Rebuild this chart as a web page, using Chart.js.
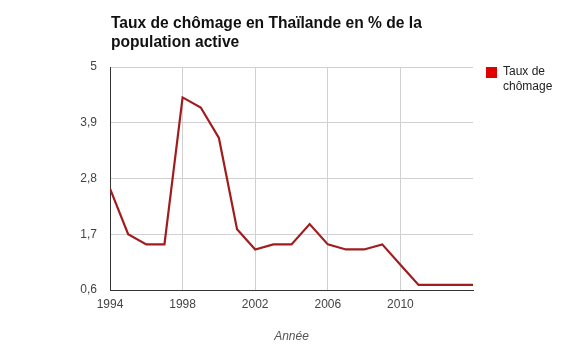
<!DOCTYPE html>
<html>
<head>
<meta charset="utf-8">
<script src="https://cdn.jsdelivr.net/npm/chart.js@4/dist/chart.umd.min.js"></script>
<style>
  html, body { margin: 0; padding: 0; background: #fff; }
  #wrap { position: relative; width: 580px; height: 358px; }
</style>
</head>
<body>
<div id="wrap"><canvas id="c" width="580" height="358"></canvas></div>
<script>
const titleLines = ['Taux de chômage en Thaïlande en % de la', 'population active'];
const seriesLabel = 'Taux de chômage';
const legendLines = ['Taux de', 'chômage'];
const xTitle = 'Année';
const years = [1994,1995,1996,1997,1998,1999,2000,2001,2002,2003,2004,2005,2006,2007,2008,2009,2010,2011,2012,2013,2014];
const values = [2.6,1.7,1.5,1.5,4.4,4.2,3.6,1.8,1.4,1.5,1.5,1.9,1.5,1.4,1.4,1.5,1.1,0.7,0.7,0.7,0.7];
const xTicks = [1994,1998,2002,2006,2010];
const yTicks = [0.6,1.7,2.8,3.9,5];
const yTickLabels = ['0,6','1,7','2,8','3,9','5'];

const FONT = '"Liberation Sans", Arial, sans-serif';

const customLegend = {
  id: 'customLegend',
  afterDraw(chart) {
    const ctx = chart.ctx;
    ctx.save();
    ctx.fillStyle = '#e00000';
    ctx.fillRect(486, 67, 11, 11);
    ctx.fillStyle = '#222';
    ctx.font = '12px ' + FONT;
    ctx.textBaseline = 'middle';
    ctx.textAlign = 'left';
    legendLines.forEach((t, i) => ctx.fillText(t, 503, 72 + i * 15));
    ctx.restore();
  }
};

const customTitle = {
  id: 'customTitle',
  afterDraw(chart) {
    const ctx = chart.ctx;
    ctx.save();
    ctx.fillStyle = '#111';
    ctx.font = 'bold 15.6px ' + FONT;
    ctx.textBaseline = 'alphabetic';
    ctx.textAlign = 'left';
    titleLines.forEach((t, i) => ctx.fillText(t, 111, 28 + i * 19));
    ctx.restore();
  }
};

new Chart(document.getElementById('c'), {
  type: 'line',
  data: {
    datasets: [{
      label: seriesLabel,
      data: years.map((y, i) => ({ x: y, y: values[i] })),
      borderColor: '#a01c1e',
      borderWidth: 2.2,
      pointRadius: 0,
      tension: 0,
      fill: false
    }]
  },
  options: {
    responsive: false,
    animation: false,
    layout: { padding: { left: 0, right: 107, top: 67, bottom: 0 } },
    plugins: {
      legend: { display: false },
      title: { display: false },
      tooltip: { enabled: false }
    },
    scales: {
      x: {
        type: 'linear',
        min: 1994,
        max: 2014,
        afterBuildTicks(scale) { scale.ticks = xTicks.map(v => ({ value: v })); },
        afterFit(scale) { scale.height = 68; },
        ticks: {
          color: '#444',
          font: { family: FONT, size: 12 },
          padding: 7,
          maxRotation: 0,
          callback: v => String(v)
        },
        grid: { color: '#d0d0d0', lineWidth: 1, drawTicks: false },
        border: { color: '#333', width: 1 },
        title: {
          display: true,
          text: xTitle,
          color: '#555',
          font: { family: FONT, size: 12, style: 'italic' },
          padding: { top: 4, bottom: 14 }
        }
      },
      y: {
        min: 0.6,
        max: 5,
        afterBuildTicks(scale) { scale.ticks = yTicks.map(v => ({ value: v })); },
        afterFit(scale) { scale.width = 110; },
        ticks: {
          color: '#444',
          font: { family: FONT, size: 12 },
          padding: 13,
          callback: (v, i) => yTickLabels[i]
        },
        grid: { color: '#d0d0d0', lineWidth: 1, drawTicks: false },
        border: { color: '#333', width: 1 }
      }
    }
  },
  plugins: [customTitle, customLegend]
});
</script>
</body>
</html>
